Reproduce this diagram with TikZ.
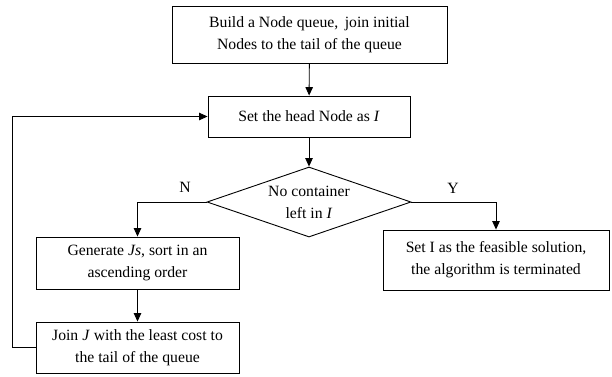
\documentclass[tikz,border=0pt]{standalone}
\usepackage{fontspec}
\setmainfont{Liberation Serif}
\usetikzlibrary{shapes.geometric,arrows.meta}
\begin{document}
\begin{tikzpicture}[x=1pt,y=-1pt,
  box/.style={draw,line width=0.9pt,align=center,inner sep=0pt,font=\fontsize{15.7}{22}\selectfont},
  dec/.style={draw,diamond,line width=0.9pt,align=center,inner sep=0pt,aspect=2.91,minimum width=204pt,minimum height=70pt,font=\fontsize{15.7}{22}\selectfont},
  arr/.style={line width=0.9pt,-{Triangle[length=8.5pt,width=7.5pt]}},
  lbl/.style={font=\fontsize{15.7}{18}\selectfont}]
\useasboundingbox (0,0) rectangle (612,376);
\node[box,minimum width=275pt,minimum height=57pt] (build) at (309.5,34.5) {Build a Node queue,\, join initial\\Nodes to the tail of the queue};
\node[box,minimum width=202pt,minimum height=41pt] (head) at (309,116.5) {Set the head Node as \textit{I}};
\node[dec] (dec) at (309,202) {No container\\left in \textit{I}};
\node[box,minimum width=203pt,minimum height=52pt] (gen) at (137.5,263) {Generate \textit{Js}, sort in an\\ascending order};
\node[box,minimum width=203pt,minimum height=51pt] (join) at (137.5,347.5) {Join \textit{J} with the least cost to\\the tail of the queue};
\node[box,minimum width=226pt,minimum height=60pt] (sol) at (496,260) {Set I as the feasible solution,\\the algorithm is terminated};
\node[lbl] (n) at (185,187) {N};
\node[lbl] (y) at (453,188) {Y};
\coordinate (loop) at (12,0);
\draw[arr] (build) -- (head);
\draw[arr] (head) -- (dec);
\draw[arr] (dec.west) -| (gen.north);
\draw[arr] (dec.east) -| (sol.north);
\draw[arr] (gen) -- (join);
\draw[arr] (join.west) -| (loop |- head.west) -- (head.west);
\end{tikzpicture}
\end{document}
